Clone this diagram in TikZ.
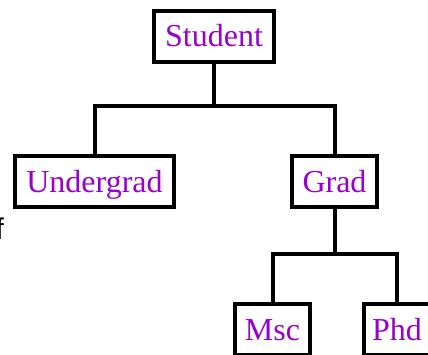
\documentclass[tikz,border=0pt]{standalone}
\usepackage{fontspec}
\setmainfont{Liberation Serif}
\newfontfamily\cutsans{Liberation Sans}
\usetikzlibrary{calc}
\definecolor{classpurple}{RGB}{153,0,204}

\begin{document}
\begin{tikzpicture}[x=1pt,y=1pt,line width=4pt,inner sep=0pt]
\tikzstyle{class}=[draw,rectangle,fill=white,text=classpurple,minimum height=51pt,text height=21pt,text depth=0pt,font=\fontsize{32}{36}\selectfont]
\useasboundingbox (0,0) rectangle (428,354);
\clip (0,0) rectangle (428,354);
\node[class,minimum width=120pt] (student) at (214,317.5) {Student};
\node[class,minimum width=159pt] (undergrad) at (94.5,172.5) {Undergrad};
\node[class,minimum width=85pt] (grad) at (334.5,172.5) {Grad};
\node[class,minimum width=75pt] (msc) at (272.5,24.5) {Msc};
\node[class,minimum width=66pt] (phd) at (397,24.5) {Phd};
% tree edges
\draw (student.south) -- ++(0,-42) -| (undergrad.north);
\draw (student.south) -- ++(0,-42) -| (grad.north);
\draw (grad.south) -- ++(0,-45) -| (msc.north);
\draw (grad.south) -- ++(0,-45) -| (phd.north);
\node[anchor=base east,font=\cutsans\fontsize{30}{36}\selectfont] (cut) at (6,115) {f};
\end{tikzpicture}
\end{document}
